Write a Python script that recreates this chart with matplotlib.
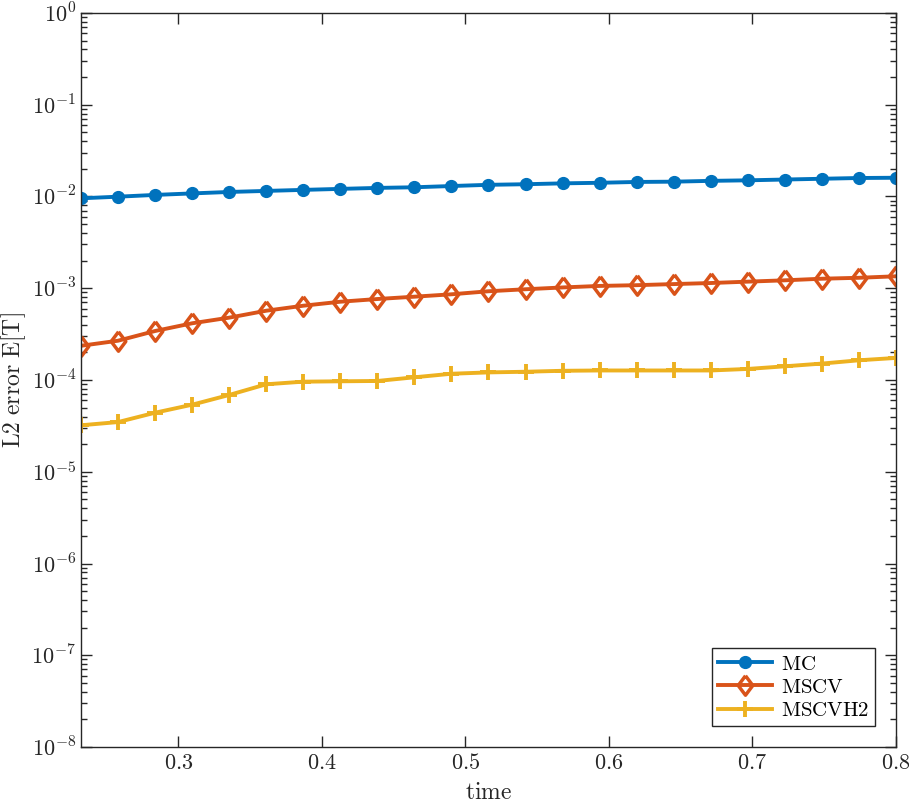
import numpy as np
import matplotlib
matplotlib.use("Agg")
import matplotlib.pyplot as plt
from matplotlib.ticker import FuncFormatter, LogLocator, NullLocator

plt.rcParams['mathtext.fontset'] = 'cm'
plt.rcParams['font.family'] = 'serif'

# time samples (0.8*k/31 for k = 9..31)
time = [0.8 * k / 31 for k in range(9, 32)]

mc = [0.00955, 0.00995, 0.0104, 0.0108, 0.0112, 0.0115, 0.0118, 0.0121,
      0.0124, 0.0126, 0.0130, 0.0134, 0.0136, 0.0139, 0.0141, 0.0144,
      0.0145, 0.0148, 0.0150, 0.0153, 0.0156, 0.0159, 0.0160]
mscv = [2.36e-4, 2.68e-4, 3.42e-4, 4.15e-4, 4.78e-4, 5.69e-4, 6.45e-4, 7.13e-4,
        7.63e-4, 8.09e-4, 8.59e-4, 9.27e-4, 9.75e-4, 1.02e-3, 1.06e-3, 1.08e-3,
        1.11e-3, 1.14e-3, 1.18e-3, 1.22e-3, 1.27e-3, 1.30e-3, 1.35e-3]
mscvh2 = [3.21e-5, 3.48e-5, 4.40e-5, 5.38e-5, 6.87e-5, 8.98e-5, 9.59e-5, 9.68e-5,
          9.76e-5, 1.07e-4, 1.17e-4, 1.21e-4, 1.23e-4, 1.26e-4, 1.27e-4, 1.27e-4,
          1.27e-4, 1.27e-4, 1.32e-4, 1.41e-4, 1.51e-4, 1.64e-4, 1.74e-4]

xticks = [0.3, 0.4, 0.5, 0.6, 0.7, 0.8]

diamond = [(0, 1), (0.75, 0), (0, -1), (-0.75, 0), (0, 1)]

fig = plt.figure(figsize=(9.09, 8.05), dpi=100)
ax = fig.add_axes([0.0891, 0.072, 0.8966, 0.9119])

ax.plot(time, mc, '-', color='#0072BD', lw=2.8, marker='o', ms=8.5, label=r'$\mathrm{MC}$')
ax.plot(time, mscv, '-', color='#D95319', lw=2.8, marker=diamond, ms=14,
        mfc='none', mew=2.5, label=r'$\mathrm{MSCV}$')
ax.plot(time, mscvh2, '-', color='#EDB120', lw=2.8, marker='+', ms=11,
        mew=2.8, label=r'$\mathrm{MSCVH2}$')

ax.set_yscale('log')
ax.set_xlim(time[0], 0.8)
ax.set_ylim(1e-8, 1e0)

ax.set_xticks(xticks)
ax.xaxis.set_minor_locator(NullLocator())
ax.xaxis.set_major_formatter(FuncFormatter(lambda v, p: r'$%.1f$' % v))
ax.yaxis.set_major_locator(LogLocator(base=10, numticks=20))
ax.yaxis.set_minor_locator(LogLocator(base=10, subs=np.arange(2, 10), numticks=20))
ax.yaxis.set_major_formatter(FuncFormatter(lambda v, p: r'$10^{%d}$' % round(np.log10(v))))

ax.tick_params(which='both', direction='in', top=True, right=True,
               color='#262626', labelsize=16, labelcolor='#262626')
ax.tick_params(which='major', length=8, width=1)
ax.tick_params(which='minor', length=4, width=1)
for s in ax.spines.values():
    s.set_color('#262626')
    s.set_linewidth(1)

ax.set_xlabel(r'$\mathrm{time}$', fontsize=17, color='#262626', labelpad=5)
ax.set_ylabel(r'$\mathrm{L2\ error\ E[T]}$', fontsize=17, color='#262626', labelpad=2)

leg = ax.legend(loc='lower right', fontsize=15, fancybox=False, edgecolor='#262626',
                framealpha=1, handlelength=2.6, borderaxespad=1.0, labelspacing=0.2,
                borderpad=0.3, handletextpad=0.4)
leg.get_frame().set_linewidth(1)

fig.savefig('out.png', dpi=100)
